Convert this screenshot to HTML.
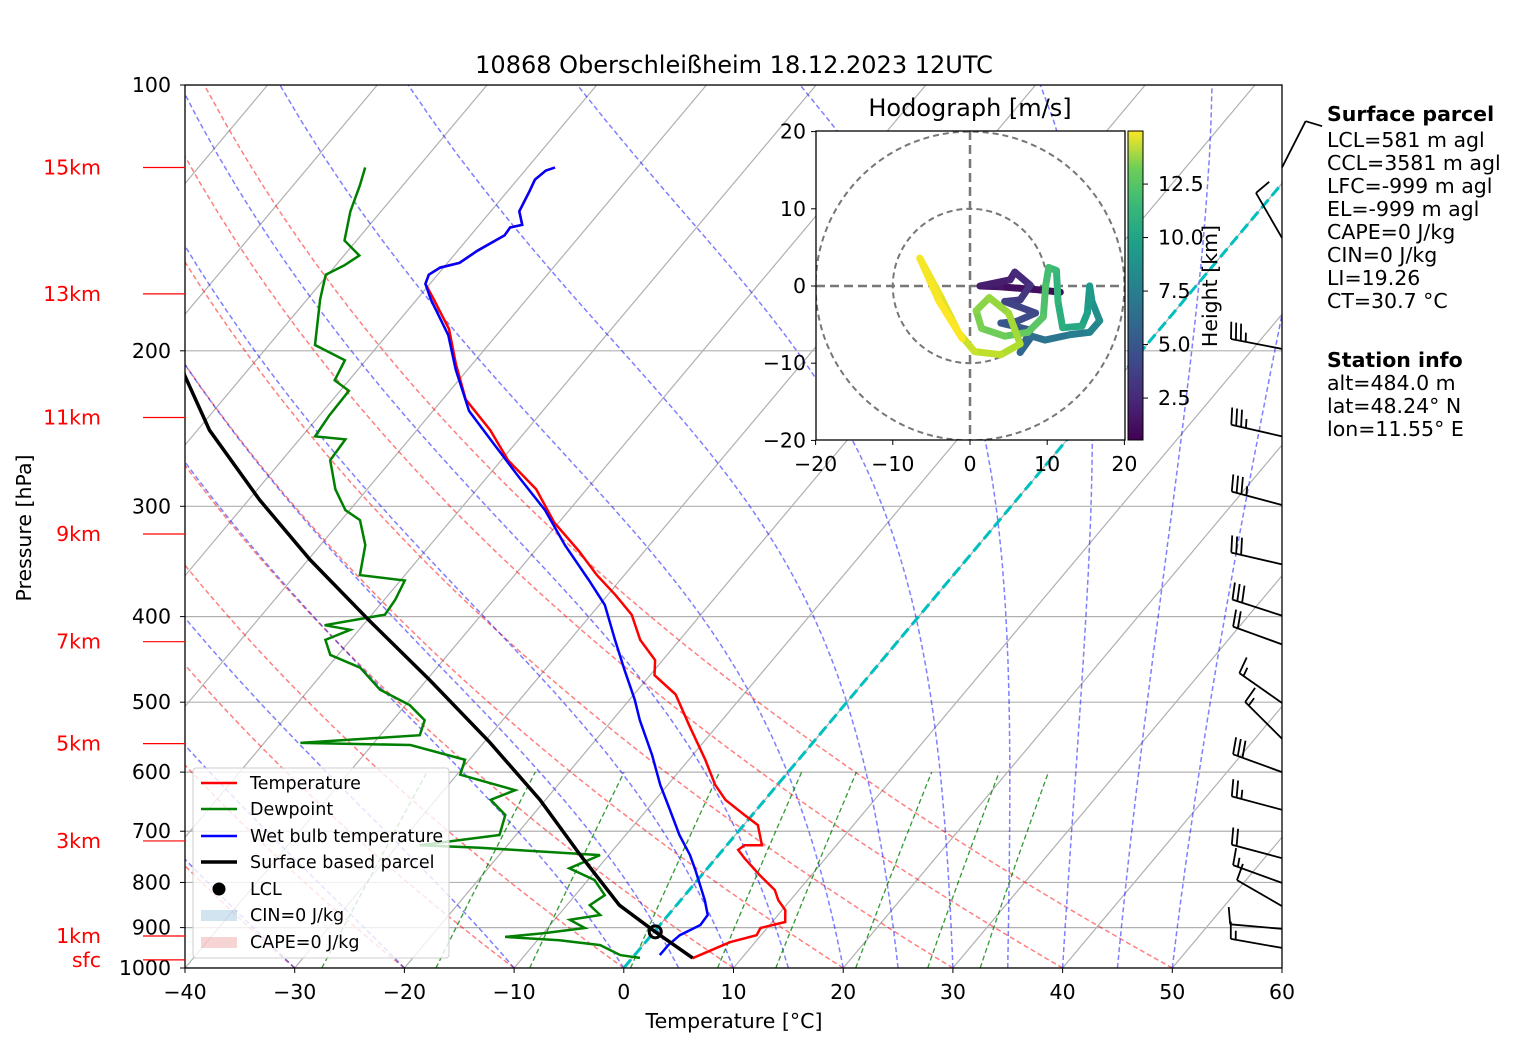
<!DOCTYPE html>
<html><head><meta charset="utf-8"><style>
html,body{margin:0;padding:0;background:#fff}
svg text{font-family:"DejaVu Sans","Liberation Sans",sans-serif}
</style></head><body>
<svg id="c" xmlns="http://www.w3.org/2000/svg" width="1517" height="1054" viewBox="0 0 1517 1054">
<defs><clipPath id="ax"><rect x="185" y="85" width="1097" height="883"/></clipPath>
<clipPath id="hax"><rect x="816" y="131" width="309" height="309"/></clipPath>
<linearGradient id="vir" x1="0" y1="1" x2="0" y2="0">
<stop offset="0" stop-color="#440154"/><stop offset="0.13" stop-color="#482878"/><stop offset="0.25" stop-color="#3e4989"/><stop offset="0.38" stop-color="#31688e"/><stop offset="0.5" stop-color="#26828e"/><stop offset="0.63" stop-color="#1f9e89"/><stop offset="0.75" stop-color="#35b779"/><stop offset="0.88" stop-color="#6ece58"/><stop offset="1" stop-color="#fde725"/></linearGradient></defs>
<rect width="1517" height="1054" fill="#fff"/>
<g id="bg" clip-path="url(#ax)"></g>
<g id="prof" clip-path="url(#ax)"></g>
<g id="barbs"></g>
<rect x="185" y="85" width="1097" height="883" fill="none" stroke="#000" stroke-width="1.3"/>
<g id="axes"></g>
<text x="734" y="73" text-anchor="middle" font-size="24">10868 Oberschleißheim 18.12.2023 12UTC</text>
<text x="734" y="1028" text-anchor="middle" font-size="20.5">Temperature [°C]</text>
<text transform="translate(31,528) rotate(-90)" text-anchor="middle" font-size="20.5">Pressure [hPa]</text>
<g id="hodo"></g>
<g id="legend">
<rect x="193" y="768" width="256" height="190" fill="#fff" fill-opacity="0.8" stroke="#ccc" rx="3"/>
<line x1="201" y1="783" x2="237" y2="783" stroke="#f00" stroke-width="2.5"/><text x="250" y="789" font-size="17.5">Temperature</text>
<line x1="201" y1="809" x2="237" y2="809" stroke="#008000" stroke-width="2.5"/><text x="250" y="815" font-size="17.5">Dewpoint</text>
<line x1="201" y1="836" x2="237" y2="836" stroke="#00f" stroke-width="2.5"/><text x="250" y="842" font-size="17.5">Wet bulb temperature</text>
<line x1="201" y1="862" x2="237" y2="862" stroke="#000" stroke-width="3.5"/><text x="250" y="868" font-size="17.5">Surface based parcel</text>
<circle cx="219" cy="889" r="6.5" fill="#000"/><text x="250" y="895" font-size="17.5">LCL</text>
<rect x="201" y="910" width="36" height="11" fill="#1f77b4" fill-opacity="0.2"/><text x="250" y="921" font-size="17.5">CIN=0 J/kg</text>
<rect x="201" y="937" width="36" height="11" fill="#d62728" fill-opacity="0.2"/><text x="250" y="948" font-size="17.5">CAPE=0 J/kg</text>
</g>
<g font-size="20.5">
<text x="1327" y="121" font-weight="bold">Surface parcel</text>
<text x="1327" y="147">LCL=581 m agl</text>
<text x="1327" y="170">CCL=3581 m agl</text>
<text x="1327" y="193">LFC=-999 m agl</text>
<text x="1327" y="216">EL=-999 m agl</text>
<text x="1327" y="239">CAPE=0 J/kg</text>
<text x="1327" y="262">CIN=0 J/kg</text>
<text x="1327" y="285">LI=19.26</text>
<text x="1327" y="308">CT=30.7 °C</text>
<text x="1327" y="367" font-weight="bold">Station info</text>
<text x="1327" y="390">alt=484.0 m</text>
<text x="1327" y="413">lat=48.24° N</text>
<text x="1327" y="436">lon=11.55° E</text>
</g>
</svg>
<script>
// ---- data ----
const tempP=[975,935,918,901,887,860,838,816,785,751,735,726,726,689,671,645,620,581,531,490,466,448,425,398,378,359,337,313,287,266,246,227,207,189,174,168,164,161,159,154,148,145,144,139,132,128,125,124];
const tempT=[5.5,7.7,9.6,9.4,11.2,10.3,8.9,7.8,5.3,2.6,1.4,1.6,3.2,1.3,-0.7,-3.6,-5.7,-8.5,-12.6,-16.2,-19.6,-20.7,-23.6,-26.3,-29.3,-32.5,-36,-40.4,-44.6,-49.4,-53.3,-57.9,-61.5,-64.8,-68.7,-70.4,-70.8,-70.3,-68.9,-68.2,-66.9,-67,-66.1,-67.4,-68,-68.4,-68.1,-67.5];
const wbP=[967,942,918,894,871,838,774,745,707,662,620,574,524,497,460,425,388,364,332,303,279,256,234,210,192,175,168,164,161,159,154,148,145,144,139,132,128,125,124];
const wbT=[2.3,2.3,2.6,3.7,3.6,2.2,-1.0,-2.6,-5.1,-7.9,-10.7,-13.7,-17.5,-19.5,-22.7,-25.9,-29.5,-32.8,-37.7,-42.2,-46.9,-51.7,-56.7,-61.1,-64.4,-68.7,-70.4,-70.8,-70.3,-68.9,-68.2,-66.9,-67,-66.1,-67.4,-68,-68.4,-68.1,-67.5];
const dewP=[974,967,942,930,922,913,901,882,871,849,827,795,771,745,731,726,707,671,645,629,604,581,559,556,545,524,504,484,457,442,425,414,409,398,383,364,359,332,311,303,287,266,252,250,237,222,216,205,197,175,164,160,156,150,139,130,124];
const dewT=[0.7,-1.3,-3.9,-8,-13.2,-9.9,-6.6,-8.6,-6.2,-7.9,-7.3,-9.4,-12.6,-10.8,-22.3,-28,-21.5,-22.5,-25,-23.5,-29.7,-30.4,-36.5,-46.7,-36.4,-37.1,-39.6,-43.5,-47,-50.7,-52.3,-50.8,-53.5,-48.8,-49,-49.6,-54.1,-55.9,-58.3,-60.4,-62.9,-65.6,-65.8,-68.8,-69.1,-69.2,-71.3,-71.9,-75.8,-78.8,-80.2,-79.2,-78.6,-81.1,-82.8,-83.9,-84.8];
const parcelP=[974,910,849,745,645,555,472,404,345,295,246,213,180];
const parcelT=[5.5,0.1,-5.2,-12.6,-20.5,-29.5,-39.7,-49.8,-59.8,-69,-78.9,-85.4,-92];
const lclP=910, lclT=0.1;
const pTicks=[100,200,300,400,500,600,700,800,900,1000];
const tTicks=[-40,-30,-20,-10,0,10,20,30,40,50,60];
const hLabels=['15km','13km','11km','9km','7km','5km','3km','1km','sfc'];
const hLabelP=[124,172.4,238,322.5,427,557,718,920,979];
const barbP=[124,149,199,250,299,349,399,430,501,550,600,662,751,801,851,903,949];
const barbDir=[27,330,281,283,285,283,288,290,305,315,290,285,285,290,300,275,280];
const barbSpd=[10,10,35,35,35,30,30,20,15,15,30,25,20,15,10,10,15];
const hodoU=[11.7,9,3.9,1.3,5.2,5.8,7.8,6.5,4.5,8.5,6.0,4.0,7.8,6.5,8.0,9.7,13,15.5,16.8,15.8,15.5,15.2,14.5,12.0,11.4,11.2,10.2,9.8,9.5,7.5,4.5,1.5,0.8,2.5,5.0,6.5,4.0,0.6,-1.5,-4,-6.5,-4.0,-1.0];
const hodoV=[-0.8,-0.5,-0.1,0,0.8,1.8,0.1,-1.8,-2.0,-3.5,-4.6,-4.8,-5.7,-8.6,-6.5,-7.0,-6.3,-6.0,-4.5,-2.0,0,-3.5,-5.2,-5.4,-2,2.0,2.4,0,-4.0,-6.0,-6.5,-5.5,-3.2,-1.5,-3.5,-7.5,-8.9,-8.5,-6.0,-1.0,3.6,-2.0,-6.8];
const hodoH=[0.5,0.8,1.1,1.4,1.7,2.0,2.3,2.7,3.0,3.4,3.8,4.1,4.5,4.9,5.3,5.7,6.2,6.7,7.1,7.6,8.0,8.4,8.8,9.2,9.6,10.0,10.3,10.6,10.9,11.2,11.5,11.8,12.1,12.4,12.7,13.0,13.3,13.6,13.9,14.3,14.6,14.8,15.0];
const hodoTicks=[-20,-10,0,10,20];
const cbTicks=[2.5,5.0,7.5,10.0,12.5];

// ---- scales ----
const NS='http://www.w3.org/2000/svg';
const X0=185,PXT=10.97,YB=968,DEC=883,SK=0.839;
function yP(p){return YB-DEC*Math.log10(1000/p);}
function xT(T,p){return X0+(T+40)*PXT+SK*(YB-yP(p));}
function mk(tag,attrs,parent){const e=document.createElementNS(NS,tag);for(const k in attrs)e.setAttribute(k,attrs[k]);parent.appendChild(e);return e;}
const bg=document.getElementById('bg'),prof=document.getElementById('prof'),axes=document.getElementById('axes');
function pathFrom(ps,ts){return ps.map((p,i)=>(i?'L':'M')+xT(ts[i],p).toFixed(1)+' '+yP(p).toFixed(1)).join('');}
pTicks.forEach(p=>{const l=mk('line',{x1:185,x2:1282,y1:yP(p),y2:yP(p),stroke:'#b0b0b0','stroke-width':1.2},bg);
});
for(let T=-120;T<=60;T+=10){const l=mk('line',{x1:xT(T,1000),y1:yP(1000),x2:xT(T,100),y2:yP(100),stroke:'#b0b0b0','stroke-width':1.2},bg);
}
for(let t0=-40;t0<=50;t0+=10){const th=t0+273.15;let d='';for(let p=1000;p>=100;p-=10){const T=th*Math.pow(p/1000,0.2857)-273.15;d+=(p==1000?'M':'L')+xT(T,p).toFixed(1)+' '+yP(p).toFixed(1);}
const e=mk('path',{d:d,fill:'none',stroke:'#ff0000','stroke-opacity':0.5,'stroke-width':1.5,'stroke-dasharray':'5,3'},bg);
}
function es(Tc){return 6.112*Math.exp(17.67*Tc/(Tc+243.5));}
const moistT0=[-40,-30,-20,-10,0,5,10,15,20,25,30,35,40,45,50];
moistT0.forEach(t0=>{let T=t0+273.15,d='M'+xT(t0,1000).toFixed(1)+' '+yP(1000).toFixed(1);
for(let p=1000;p>100;p-=2){const e1=es(T-273.15),rs=0.622*e1/(p-e1);const dTdp=(287*T+2.5e6*rs)/(p*(1005+2.5e6*2.5e6*rs*0.622/(287*T*T)));T-=dTdp*2;
const pn=p-2;if(pn%10==0)d+='L'+xT(T-273.15,pn).toFixed(1)+' '+yP(pn).toFixed(1);}
const e=mk('path',{d:d,fill:'none',stroke:'#0000ff','stroke-opacity':0.5,'stroke-width':1.5,'stroke-dasharray':'5,3'},bg);
});
const mixW=[0.0004,0.001,0.002,0.004,0.007,0.01,0.016,0.024,0.032];
mixW.forEach(w=>{let d='';for(let p=1000;p>=600;p-=20){const e1=w*p/(0.622+w),l=Math.log(e1/6.112),Td=243.5*l/(17.67-l);d+=(p==1000?'M':'L')+xT(Td,p).toFixed(1)+' '+yP(p).toFixed(1);}
const e=mk('path',{d:d,fill:'none',stroke:'#008000','stroke-opacity':0.8,'stroke-width':1.3,'stroke-dasharray':'5,3'},bg);
});
const z=mk('line',{x1:xT(0,1000),y1:yP(1000),x2:xT(0,100),y2:yP(100),stroke:'#00bfbf','stroke-width':3,'stroke-dasharray':'11,5'},bg);

const pd=mk('path',{d:pathFrom(dewP,dewT),fill:'none',stroke:'#008000','stroke-width':2.5},prof);

const pt=mk('path',{d:pathFrom(tempP,tempT),fill:'none',stroke:'#ff0000','stroke-width':2.5},prof);

const pw=mk('path',{d:pathFrom(wbP,wbT),fill:'none',stroke:'#0000ff','stroke-width':2.5},prof);

const pp=mk('path',{d:pathFrom(parcelP,parcelT),fill:'none',stroke:'#000','stroke-width':3.5},prof);

const lc=mk('circle',{cx:xT(lclT,lclP),cy:yP(lclP),r:6,fill:'none',stroke:'#000','stroke-width':3},prof);

pTicks.forEach(p=>{mk('line',{x1:180,x2:185,y1:yP(p),y2:yP(p),stroke:'#000'},axes);
const t=mk('text',{x:171,y:yP(p)+7,'text-anchor':'end','font-size':20.5},axes);t.textContent=p;
});
tTicks.forEach(T=>{const x=X0+(T+40)*PXT;mk('line',{x1:x,x2:x,y1:968,y2:973,stroke:'#000'},axes);
const t=mk('text',{x:x,y:999,'text-anchor':'middle','font-size':20.5},axes);t.textContent=(T<0?'\u2212'+(-T):T);
});
hLabels.forEach((s,i)=>{const y=yP(hLabelP[i]);mk('line',{x1:143,x2:185,y1:y,y2:y,stroke:'#f00','stroke-width':1.2},axes);
const t=mk('text',{x:101,y:y+7,'text-anchor':'end','font-size':20.5,fill:'#f00'},axes);t.textContent=s;
});
const bb=document.getElementById('barbs');
barbP.forEach((p,i)=>{const bx=1282,by=yP(p),L=52,a=barbDir[i]*Math.PI/180;const sx=Math.sin(a),sy=-Math.cos(a);const fx=-sy,fy=sx;
const tx=bx+sx*L,ty=by+sy*L;let d='M'+bx+' '+by+'L'+tx.toFixed(1)+' '+ty.toFixed(1);let s=barbSpd[i],pos=0;
while(s>=10){const px=tx-sx*pos,py=ty-sy*pos;d+='M'+px.toFixed(1)+' '+py.toFixed(1)+'l'+(fx*17+sx*3).toFixed(1)+' '+(fy*17+sy*3).toFixed(1);s-=10;pos+=5;}
if(s>=5){const px=tx-sx*(pos+(pos?0:5)),py=ty-sy*(pos+(pos?0:5));d+='M'+px.toFixed(1)+' '+py.toFixed(1)+'l'+(fx*9+sx*1.5).toFixed(1)+' '+(fy*9+sy*1.5).toFixed(1);}
const e=mk('path',{d:d,fill:'none',stroke:'#000','stroke-width':1.8},bb);
});
const hg=document.getElementById('hodo');
const HX=970,HY=286,HS=7.72;
function hx(u){return HX+u*HS;}function hy(v){return HY-v*HS;}
mk('rect',{x:816,y:131,width:309,height:309,fill:'#fff'},hg);
const hc=mk('g',{'clip-path':'url(#hax)'},hg);
[10,20].forEach(r=>{const c=mk('circle',{cx:HX,cy:HY,r:r*HS,fill:'none',stroke:'#777','stroke-width':2,'stroke-dasharray':'6,4'},hc);
});
mk('line',{x1:816,x2:1125,y1:HY,y2:HY,stroke:'#777','stroke-width':2.5,'stroke-dasharray':'9,5'},hc);
mk('line',{x1:HX,x2:HX,y1:131,y2:440,stroke:'#777','stroke-width':2.5,'stroke-dasharray':'9,5'},hc);
const vs=[[68,1,84],[72,40,120],[62,74,137],[49,104,142],[38,130,142],[31,158,137],[53,183,121],[109,205,89],[180,222,44],[253,231,37]];
function vir(h){let t=(h-0.54)/(14.98-0.54);t=Math.max(0,Math.min(1,t))*9;const i=Math.min(8,Math.floor(t)),f=t-i;const c=vs[i].map((v,k)=>Math.round(v+(vs[i+1][k]-v)*f));return 'rgb('+c.join(',')+')';}
for(let i=1;i<hodoU.length;i++){const s=mk('line',{x1:hx(hodoU[i-1]),y1:hy(hodoV[i-1]),x2:hx(hodoU[i]),y2:hy(hodoV[i]),stroke:vir(hodoH[i]),'stroke-width':7,'stroke-linecap':'round'},hc);
}
mk('rect',{x:816,y:131,width:309,height:309,fill:'none',stroke:'#000','stroke-width':1.3},hg);
hodoTicks.forEach(v=>{const lab=v<0?'\u2212'+(-v):''+v;
mk('line',{x1:hx(v),x2:hx(v),y1:440,y2:445,stroke:'#000'},hg);
let t=mk('text',{x:hx(v),y:471,'text-anchor':'middle','font-size':20.5},hg);t.textContent=lab;

mk('line',{x1:811,x2:816,y1:hy(v),y2:hy(v),stroke:'#000'},hg);
t=mk('text',{x:806,y:hy(v)+7,'text-anchor':'end','font-size':20.5},hg);t.textContent=lab;
});
let ht=mk('text',{x:970,y:116,'text-anchor':'middle','font-size':24},hg);ht.textContent='Hodograph [m/s]';

const cb=mk('rect',{x:1128,y:131,width:15,height:309,fill:'url(#vir)',stroke:'#000','stroke-width':1},hg);

function cy(h){return 440-(h-0.54)/(14.98-0.54)*309;}
cbTicks.forEach(h=>{mk('line',{x1:1143,x2:1148,y1:cy(h),y2:cy(h),stroke:'#000'},hg);
const t=mk('text',{x:1158,y:cy(h)+7,'font-size':20.5},hg);t.textContent=h.toFixed(1);
});
ht=mk('text',{transform:'translate(1217,286) rotate(-90)','text-anchor':'middle','font-size':20.5},hg);ht.textContent='Height [km]';

</script>
</body></html>
